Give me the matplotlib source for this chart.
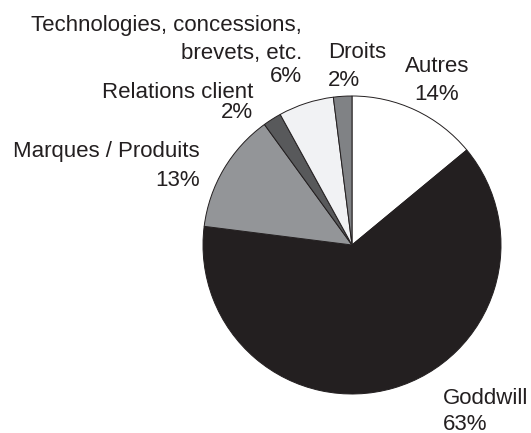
import matplotlib.pyplot as plt

# parts of the total, clockwise from the top
labels = [['Autres'], ['Goddwill'], ['Marques / Produits'], ['Relations client'],
          ['Technologies, concessions,', 'brevets, etc.'], ['Droits']]
values = [14, 63, 13, 2, 6, 2]
colors = ['#ffffff', '#231f20', '#939598', '#58595b', '#f1f2f4', '#808285']

W, H = 531, 433
fig = plt.figure(figsize=(W / 100, H / 100), dpi=100)
ax = fig.add_axes([0, 0, 1, 1])

ax.pie(values, colors=colors, startangle=90, counterclock=False,
       center=(352, H - 245), radius=149,
       wedgeprops=dict(edgecolor='#231f20', linewidth=0.7))

# label anchors in pixels: x, alignment, y of each line
spots = [(437, 'center', [67, 95]),
         (443, 'left', [399, 424]),
         (200, 'right', [152, 180]),
         (253, 'right', [92, 113]),
         (302, 'right', [25, 53, 76]),
         (328, 'left', [53, 81])]

for lab, v, (x, ha, ys) in zip(labels, values, spots):
    lines = lab + [str(v) + '%']
    for line, y in zip(lines, ys):
        ax.text(x, H - y, line, ha=ha, va='center', fontsize=16,
                family='Liberation Sans', color='#231f20')

ax.set_xlim(0, W)
ax.set_ylim(0, H)
ax.set_aspect('equal')
ax.axis('off')
fig.savefig('out.png', dpi=100)
